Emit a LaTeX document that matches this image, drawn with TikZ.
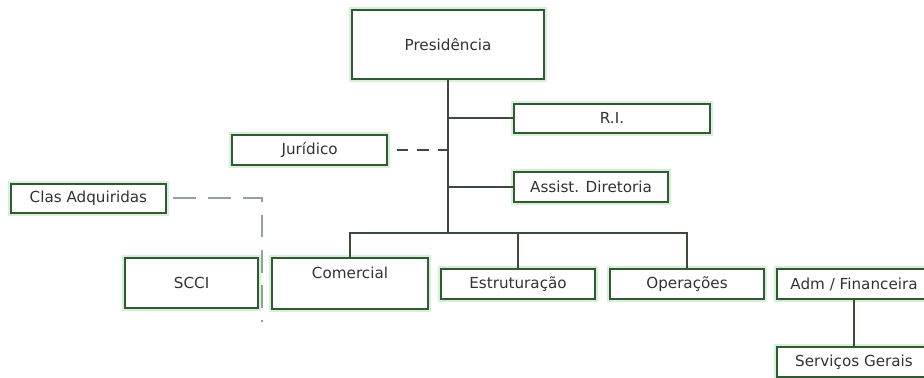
\documentclass[tikz,border=0pt]{standalone}
\usepackage{fontspec}
\setmainfont{DejaVu Sans}
\usepackage{xcolor}
\usepackage{tikz}
\usetikzlibrary{positioning, calc}
\definecolor{BoxGreen}{HTML}{2F5A33}
\definecolor{GlowGreen}{HTML}{D8F0D8}
\definecolor{LineGray}{HTML}{3C4A3E}
\definecolor{DashGray}{HTML}{8FA596}
\definecolor{TextGray}{HTML}{333333}

\begin{document}
\begin{tikzpicture}[
  unit/.style={rectangle, draw=BoxGreen, line width=1.6pt, fill=white,
    text=TextGray, font=\fontsize{10.8}{12}\selectfont, inner sep=0pt,
    preaction={draw=GlowGreen, line width=4.5pt}},
  link/.style={draw=LineGray, line width=1.4pt},
  staff/.style={draw=LineGray, line width=1.5pt, dash pattern=on 8pt off 6.5pt},
  holding/.style={draw=DashGray, line width=1.5pt, dash pattern=on 16pt off 9pt}
]

% Frame
\useasboundingbox (0,0) rectangle (23.1,-9.45);
\clip (0,0) rectangle (23.1,-9.45);
\fill[white] (0,0) rectangle (23.1,-9.45);

% Top
\node[unit, minimum width=4.8cm, minimum height=1.725cm] (pres) at (11.2,-1.11) {Presidência};

% Staff
\node[unit, minimum width=4.9cm, minimum height=0.725cm] (ri) at (15.3,-2.96) {R.I.};
\node[unit, minimum width=3.85cm, minimum height=0.75cm] (assist) at (14.775,-4.675) {Assist. Diretoria};
\node[unit, minimum width=3.875cm, minimum height=0.75cm] (jur) at (7.74,-3.75) {Jurídico};
\node[unit, minimum width=3.875cm, minimum height=0.725cm] (clas) at (2.21,-4.96) {Clas Adquiridas};

% Areas
\node[unit, minimum width=3.325cm, minimum height=1.25cm] (scci) at (4.79,-7.075) {SCCI};
\node[unit, minimum width=3.9cm, text height=0.5cm, text depth=0.775cm] (com) at (8.75,-7.09) {Comercial};
\node[unit, minimum width=3.85cm, minimum height=0.75cm] (estr) at (12.95,-7.1) {Estruturação};
\node[unit, minimum width=3.85cm, minimum height=0.75cm] (oper) at (17.175,-7.1) {Operações};
\node[unit, minimum width=3.85cm, minimum height=0.75cm] (adm) at (21.35,-7.1) {Adm / Financeira};
\node[unit, minimum width=3.85cm, minimum height=0.75cm] (serv) at (21.35,-9.05) {Serviços Gerais};

\coordinate (bus) at (11.2,-5.825);
\coordinate (clasend) at (6.55,-8.05);

% Lines
\draw[link] (pres.south) -- (bus);
\draw[link] (pres.south |- ri.west) -- (ri.west);
\draw[link] (pres.south |- assist.west) -- (assist.west);
\draw[link] (com.north) |- (bus) -| (oper.north);
\draw[link] (estr.north) -- (estr.north |- bus);
\draw[link] (adm.south) -- (serv.north);
\draw[staff] ($(jur.east)+(0.22,0)$) -- (jur.east -| pres.south);
\draw[holding] ($(clas.east)+(0.15,0)$) -- (clas.east -| clasend) -- (clasend);

\end{tikzpicture}
\end{document}
